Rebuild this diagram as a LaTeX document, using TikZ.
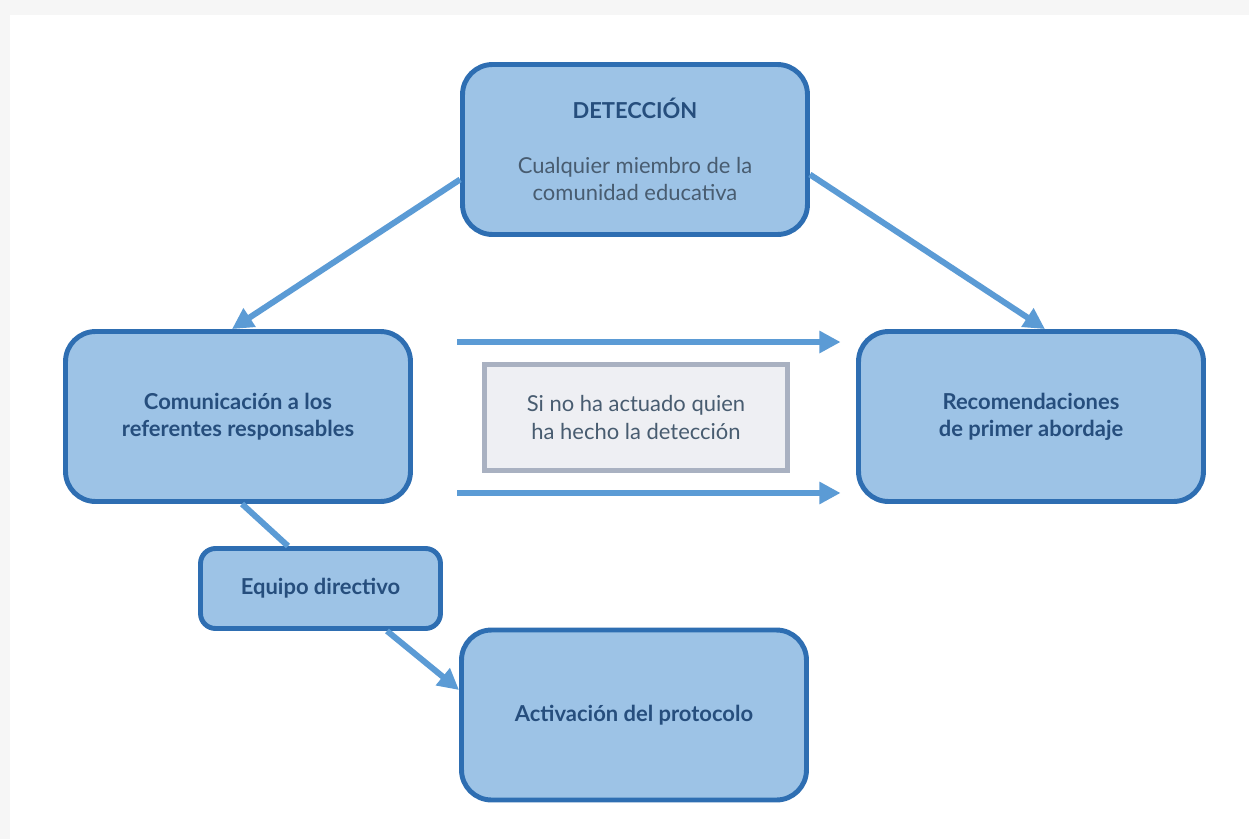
\documentclass[tikz,border=0pt]{standalone}
\usepackage{fontspec}
\setmainfont{Lato}
\usetikzlibrary{shapes,arrows.meta,positioning}
\definecolor{boxline}{RGB}{46,110,178}
\definecolor{boxfill}{RGB}{157,195,230}
\definecolor{flowblue}{RGB}{91,155,213}
\definecolor{textblue}{RGB}{38,78,125}
\definecolor{textgray}{RGB}{72,92,112}
\definecolor{notefill}{RGB}{238,239,243}
\definecolor{noteline}{RGB}{169,177,193}
\newcommand{\lighttext}{\mdseries\color{textgray}}
\tikzset{
	stage/.style={draw=boxline,fill=boxfill,line width=2.8pt,rounded corners=0.6cm,minimum width=6.9cm,minimum height=3.4cm,align=center,font=\fontsize{12.5}{15.5}\selectfont\bfseries,text=textblue},
	substage/.style={stage,rounded corners=0.3cm,minimum width=4.8cm,minimum height=1.6cm},
	note/.style={draw=noteline,fill=notefill,line width=2.8pt,minimum width=6.06cm,minimum height=2.12cm,align=center,font=\fontsize{12.5}{15.5}\selectfont,text=textgray},
	flow/.style={draw=flowblue,line width=3.4pt,-{Triangle[length=12pt,width=12pt]}},
	link/.style={draw=flowblue,line width=3.4pt}
}
\begin{document}
\begin{tikzpicture}[x=0.02cm,y=-0.02cm]
			\useasboundingbox (0,0) rectangle (1249,839);
			\fill[gray!7] (0,0) rectangle (1249,839);
			\fill[white] (10,15) rectangle (1249,839);
			% stages
			\node[stage] (deteccion) at (635,149.5) {DETECCIÓN\\[0.55cm]\lighttext Cualquier miembro de la\\\lighttext comunidad educativa};
			\node[stage] (comunicacion) at (238,416.5) {Comunicación a los\\referentes responsables};
			\node[stage] (recomendaciones) at (1031,416.5) {Recomendaciones\\de primer abordaje};
			\node[substage] (equipo) at (320.5,588.5) {Equipo directivo};
			\node[stage] (activacion) at (634,715) {Activación del protocolo};
			\node[note] (nota) at (636,417.5) {Si no ha actuado quien\\ha hecho la detección};
			% connectors
			\draw[flow] ([yshift=-0.6cm]deteccion.west) -- ([xshift=-0.12cm]comunicacion.north);
			\draw[flow] ([yshift=-0.5cm]deteccion.east) -- ([xshift=0.28cm]recomendaciones.north);
			\draw[flow,shorten <=0.89cm,shorten >=0.31cm] ([yshift=1.49cm]comunicacion.east) -- ([yshift=1.49cm]recomendaciones.west);
			\draw[flow,shorten <=0.89cm,shorten >=0.31cm] ([yshift=-1.53cm]comunicacion.east) -- ([yshift=-1.53cm]recomendaciones.west);
			\draw[link] ([xshift=0.08cm]comunicacion.south) -- ([xshift=-0.65cm]equipo.north);
			\draw[flow] ([xshift=1.33cm]equipo.south) -- ([yshift=0.5cm]activacion.west);
		\end{tikzpicture}
\end{document}
